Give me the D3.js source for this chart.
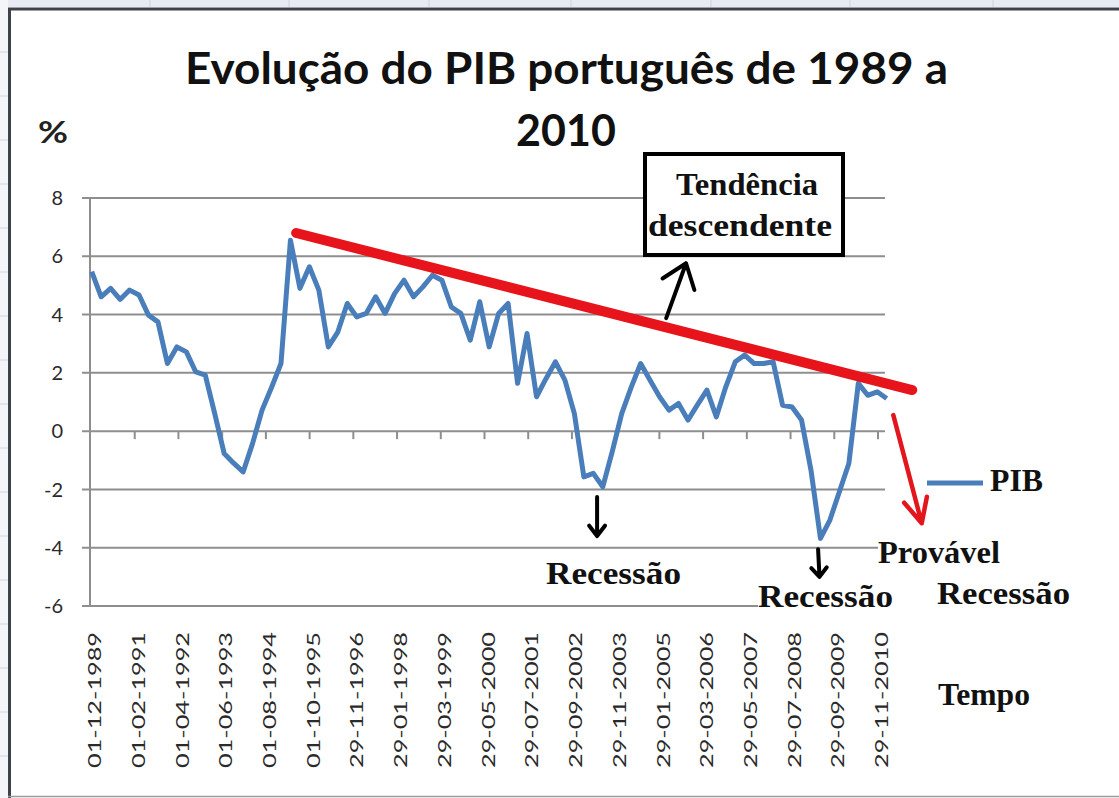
<!DOCTYPE html>
<html>
<head>
<meta charset="utf-8">
<script src="https://cdn.jsdelivr.net/npm/d3@7"></script>
<style>
  body { margin: 0; background: #fff; }
  svg { display: block; }
</style>
</head>
<body>
<svg id="chart" width="1119" height="798"></svg>
<script>
// PIB trimestral (%)
var pib = [5.47, 4.61, 4.9, 4.52, 4.84, 4.67, 3.98, 3.75, 2.32, 2.89,
           2.72, 2.03, 1.92, 0.6, -0.77, -1.1, -1.4, -0.42, 0.72, 1.5,
           2.32, 6.55, 4.9, 5.64, 4.84, 2.89, 3.4, 4.38, 3.92, 4.04,
           4.61, 4.04, 4.72, 5.18, 4.61, 4.95, 5.35, 5.18, 4.26, 4.04,
           3.12, 4.44, 2.89, 4.04, 4.38, 1.64, 3.35, 1.18, 1.8, 2.38,
           1.75, 0.6, -1.57, -1.45, -1.91, -0.7, 0.6, 1.5, 2.32, 1.75,
           1.18, 0.72, 0.95, 0.38, 0.9, 1.41, 0.49, 1.52, 2.38, 2.61,
           2.32, 2.32, 2.38, 0.89, 0.83, 0.38, -1.34, -3.68, -3.05, -2.08,
           -1.11, 1.64, 1.23, 1.35, 1.12]

var dateLabels = ["01-12-1989", "01-02-1991", "01-04-1992", "01-06-1993", "01-08-1994",
                  "01-10-1995", "29-11-1996", "29-01-1998", "29-03-1999", "29-05-2000",
                  "29-07-2001", "29-09-2002", "29-11-2003", "29-01-2005", "29-03-2006",
                  "29-05-2007", "29-07-2008", "29-09-2009", "29-11-2010"]

var yTicks = [-6, -4, -2, 0, 2, 4, 6, 8]

// tendencia descendente (indice, valor)
var trend = [{i: 21.6, v: 6.8}, {i: 86.7, v: 1.41}]

// setas (cauda -> ponta), em indice/valor
var arrows = [
  {from: {i: 53.4, v: -2.26}, to: {i: 53.4, v: -3.6}, len: 13, ang: 0.65, color: "#000", w: 4},
  {from: {i: 76.75, v: -4.05}, to: {i: 76.9, v: -5.0}, len: 12, ang: 0.7, color: "#000", w: 4},
  {from: {i: 60.7, v: 3.88}, to: {i: 62.8, v: 5.76}, len: 28, ang: 0.65, color: "#000", w: 4},
  {from: {i: 84.7, v: 0.55}, to: {i: 87.7, v: -3.16}, len: 27, ang: 0.45, color: "#e3161e", w: 4.5}
]

var svg = d3.select("#chart")

// moldura estilo folha de calculo
svg.append("rect").attr("x", 0).attr("y", 0).attr("width", 1119).attr("height", 7).attr("fill", "#e7eaf3")
svg.append("rect").attr("x", 0).attr("y", 0).attr("width", 8).attr("height", 798).attr("fill", "#f4f5f9")
svg.selectAll(".vcell").data([150, 289, 429, 571, 711, 850, 993]).enter()
  .append("line").attr("x1", d => d).attr("x2", d => d).attr("y1", 0).attr("y2", 7)
  .attr("stroke", "#cfd3de").attr("stroke-width", 1)
svg.selectAll(".hcell").data(d3.range(52, 798, 44)).enter()
  .append("line").attr("x1", 0).attr("x2", 8).attr("y1", d => d).attr("y2", d => d)
  .attr("stroke", "#cfd3de").attr("stroke-width", 1)
svg.append("line").attr("x1", 8).attr("x2", 1119).attr("y1", 9).attr("y2", 9)
  .attr("stroke", "#3d414b").attr("stroke-width", 3)
svg.append("line").attr("x1", 9.5).attr("x2", 9.5).attr("y1", 8).attr("y2", 798)
  .attr("stroke", "#3d414b").attr("stroke-width", 3)
svg.append("line").attr("x1", 8).attr("x2", 1119).attr("y1", 796.5).attr("y2", 796.5)
  .attr("stroke", "#9a9a9a").attr("stroke-width", 1.5)

const x = d3.scaleLinear().domain([0, pib.length - 1]).range([91.7, 886.7])
const y = d3.scaleLinear().domain([-6, 8]).range([606, 198])
const tickX = d3.scalePoint().domain(dateLabels).range([91, 878])

const plotLeft = 90, plotRight = 885

// grelha horizontal
svg.append("g")
  .selectAll("line")
  .data(yTicks)
  .enter()
  .append("line")
  .attr("x1", plotLeft - 8)
  .attr("x2", plotRight)
  .attr("y1", d => y(d))
  .attr("y2", d => y(d))
  .attr("stroke", "#8e8e8e")
  .attr("stroke-width", 2)

// eixo vertical
svg.append("line")
  .attr("x1", plotLeft).attr("x2", plotLeft)
  .attr("y1", y(8)).attr("y2", y(-6))
  .attr("stroke", "#8e8e8e").attr("stroke-width", 2)

// marcas no eixo das categorias (cruza em 0)
svg.append("g")
  .selectAll("line")
  .data(dateLabels.slice(1))
  .enter()
  .append("line")
  .attr("x1", d => tickX(d)).attr("x2", d => tickX(d))
  .attr("y1", y(0)).attr("y2", y(0) + 8)
  .attr("stroke", "#8e8e8e").attr("stroke-width", 2)

// rotulos do eixo y
svg.append("g")
  .selectAll("text")
  .data(yTicks)
  .enter()
  .append("text")
  .attr("x", 63)
  .attr("y", d => y(d))
  .attr("dy", "0.36em")
  .attr("text-anchor", "end")
  .style("font-family", "Lato, 'Open Sans', sans-serif")
  .style("font-size", "20px")
  .attr("fill", "#2a2a2a")
  .text(d => d)

// rotulos das datas
svg.append("g")
  .selectAll("text")
  .data(dateLabels)
  .enter()
  .append("text")
  .attr("transform", d => "translate(" + (tickX(d) + 4) + ",768) rotate(-90)")
  .attr("dy", "0.36em")
  .attr("text-anchor", "start")
  .attr("textLength", 136)
  .attr("lengthAdjust", "spacingAndGlyphs")
  .style("font-family", "Lato, 'Open Sans', sans-serif")
  .style("font-size", "17px")
  .attr("fill", "#2a2a2a")
  .text(d => d)

// titulo
svg.append("text")
  .attr("x", 185).attr("y", 84)
  .attr("textLength", 763).attr("lengthAdjust", "spacingAndGlyphs")
  .style("font-family", "Lato, sans-serif").style("font-weight", "bold").style("font-size", "43px")
  .attr("fill", "#111")
  .text("Evolução do PIB português de 1989 a")
svg.append("text")
  .attr("x", 566).attr("y", 146)
  .attr("text-anchor", "middle")
  .style("font-family", "Lato, sans-serif").style("font-weight", "bold").style("font-size", "43px")
  .attr("fill", "#111")
  .text("2010")

svg.append("text")
  .attr("x", 38).attr("y", 143)
  .attr("textLength", 30).attr("lengthAdjust", "spacingAndGlyphs")
  .style("font-family", "Lato, sans-serif").style("font-weight", "bold").style("font-size", "30px")
  .attr("fill", "#222")
  .text("%")

// serie PIB
const line = d3.line()
  .x((d, i) => x(i))
  .y(d => y(d))

svg.append("path")
  .datum(pib)
  .attr("d", line)
  .attr("fill", "none")
  .attr("stroke", "#4a7ebb")
  .attr("stroke-width", 5)
  .attr("stroke-linejoin", "round")

// linha de tendencia
svg.append("path")
  .datum(trend)
  .attr("d", d3.line().x(d => x(d.i)).y(d => y(d.v)))
  .attr("stroke", "#e8141c")
  .attr("stroke-width", 10)
  .attr("stroke-linecap", "round")

// caixa "Tendencia descendente"
svg.append("rect")
  .attr("x", 645).attr("y", 154).attr("width", 198).attr("height", 101)
  .attr("fill", "#fff").attr("stroke", "#000").attr("stroke-width", 4)

function arrow(a) {
  const x1 = x(a.from.i), y1 = y(a.from.v), x2 = x(a.to.i), y2 = y(a.to.v)
  const th = Math.atan2(y1 - y2, x1 - x2)
  const p = d3.path()
  p.moveTo(x1, y1); p.lineTo(x2, y2)
  p.moveTo(x2 + a.len * Math.cos(th + a.ang), y2 + a.len * Math.sin(th + a.ang))
  p.lineTo(x2, y2)
  p.lineTo(x2 + a.len * Math.cos(th - a.ang), y2 + a.len * Math.sin(th - a.ang))
  svg.append("path").attr("d", p.toString())
    .attr("fill", "none").attr("stroke", a.color).attr("stroke-width", a.w)
    .attr("stroke-linecap", "round").attr("stroke-linejoin", "round")
}
arrows.forEach(arrow)

// legenda
svg.append("line")
  .attr("x1", 927).attr("x2", 983).attr("y1", 483).attr("y2", 483)
  .attr("stroke", "#4a7ebb").attr("stroke-width", 5)

// anotacoes (texto serif a negrito, com fundo branco)
var notes = [
  {t: "Tendência", x: 676, y: 195, w: 142},
  {t: "descendente", x: 648, y: 236, w: 184},
  {t: "PIB", x: 990, y: 491, w: 53},
  {t: "Recessão", x: 546, y: 584, w: 135},
  {t: "Recessão", x: 758, y: 607, w: 135},
  {t: "Provável", x: 878, y: 563, w: 122},
  {t: "Recessão", x: 937, y: 604, w: 133},
  {t: "Tempo", x: 938, y: 705, w: 92}
]

notes.forEach(function(n) {
  const g = svg.append("g")
  const bg = g.append("rect").attr("fill", "#fff")
  const t = g.append("text")
    .attr("x", n.x).attr("y", n.y)
    .attr("textLength", n.w).attr("lengthAdjust", "spacingAndGlyphs")
    .style("font-family", "'Liberation Serif', 'DejaVu Serif', serif")
    .style("font-weight", "bold").style("font-size", "32px")
    .attr("fill", "#111")
    .text(n.t)
  const b = t.node().getBBox()
  bg.attr("x", b.x).attr("y", b.y + 4).attr("width", b.width).attr("height", b.height - 6)
})
</script>
</body>
</html>
